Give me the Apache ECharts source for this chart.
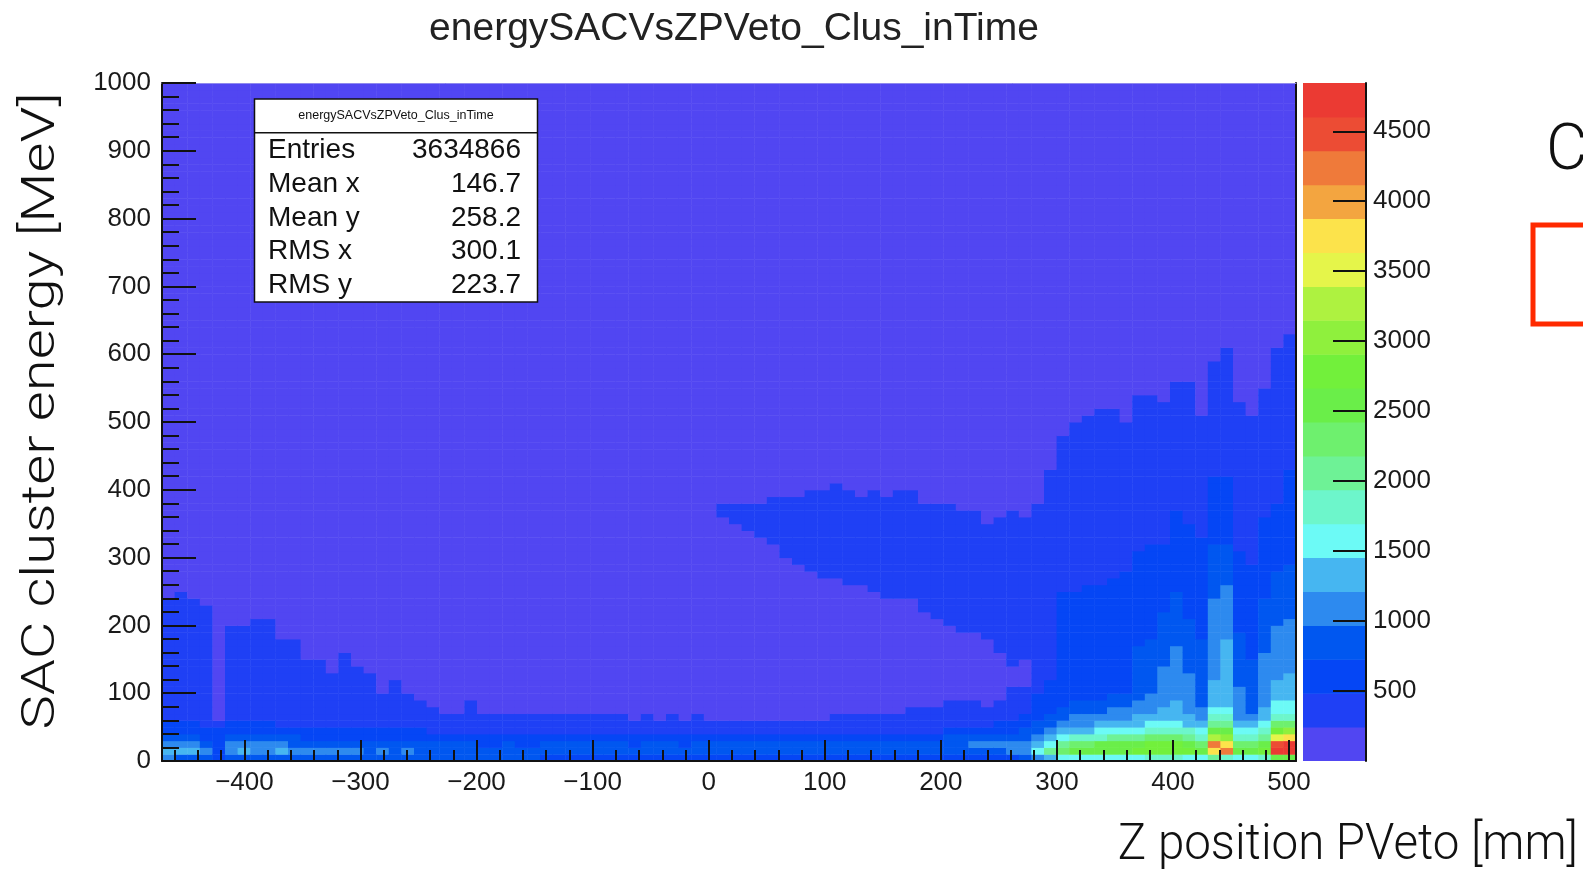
<!DOCTYPE html>
<html><head><meta charset="utf-8">
<script src="https://cdn.jsdelivr.net/npm/echarts@6/dist/echarts.min.js"></script>
<style>html,body{margin:0;padding:0;background:#fff;overflow:hidden}#chart{width:1583px;height:875px}</style>
</head><body><div id="chart"></div>
<script>
// ================= DATA =================
const xRange = [-471, 506];   // Z position PVeto [mm], 90 bins
const xBins = 90;
const yRange = [0, 1000];     // SAC cluster energy [MeV], 100 bins
const yBins = 100;
const zMax = 4845;            // palette maximum
const nContours = 20;
const xTickLabels = [-400, -300, -200, -100, 0, 100, 200, 300, 400, 500];
const yTickLabels = [0, 100, 200, 300, 400, 500, 600, 700, 800, 900, 1000];
const zTickLabels = [500, 1000, 1500, 2000, 2500, 3000, 3500, 4000, 4500];
const statsNames = ["Entries", "Mean x", "Mean y", "RMS x", "RMS y"];
const statsValues = ["3634866", "146.7", "258.2", "300.1", "223.7"];

// Per x-bin column: contour band of each y-bin (10 MeV), bottom row first.
// "L*N" = band L for N rows; rows above the listed ones are band 0.
const runsLeft = [
  "4,5,4,3,2,2,1*18", "3,5,4,3,2,2,1*19", "3,5,4,3,2,2,1*18", "3,4,3,2,2,1*18", "2,2,2,2,2,1",
  "3,4,4,3,2,2,1*14", "3,5,4,3,2,2,1*14", "3,4,4,3,2,2,1*15", "3,4,4,3,2,2,1*15", "3,5,4,3,2,1*13",
  "3,4,3,3,2,1*13", "3,4,3,2,2,1*10", "3,4,3,2,2,1*10", "3,4,3,2,2,1*8", "3,4,3,2,2,1*11",
  "3,4,3,2,2,1*9", "3,3,3,2,2,1*8", "3,4,3,2,2,1*5", "3,3,3,2,2,1*7", "3,4,3,2,2,1*5",
  "3,3,3,2,2,1*4", "3,3,3,2,1*4", "3,3,3,2,1*3", "3,3,3,2,1*3", "3,3,3,2,1*5",
  "3,3,2,2,1*3", "3,3,2,2,1*3", "3,3,3,2,1*3", "3,3,2,2,1*3", "3,3,2,2,1*3"
];
const runsMid = [
  "2,3,3,2,1*3", "2,3,3,2,1*3", "2,3,3,2,1*3", "2,3,3,2,1*3", "2,3,3,2,1*3",
  "2,3,3,2,1*3", "2,3,3,2,1*3", "2,3,2,2,1*2", "2,3,3,2,1*3", "2,3,3,2,1*2",
  "2,3,3,2,1*3", "2,3,2,2,1*2", "2,3,3,2,1*3", "2,3,3,2,1*2",
  "2,3,3,2,1*2,0*30,1*2", "2,3,3,2,1*2,0*29,1*3", "2,3,3,2,1*2,0*28,1*4", "2,3,3,2,1*2,0*27,1*5",
  "2,3,3,2,1*2,0*26,1*7", "2,3,3,2,1*2,0*24,1*9", "2,3,3,2,1*2,0*23,1*10", "2,3,3,2,1*2,0*22,1*12",
  "2,3,3,2,1*2,0*21,1*13", "2,3,3,2,1*3,0*20,1*14", "2,3,3,2,1*3,0*19,1*14", "2,3,3,2,1*3,0*19,1*13",
  "2,3,3,2,1*3,0*18,1*15", "2,3,3,2,1*3,0*17,1*15", "2,3,3,2,1*3,0*17,1*16", "2,3,3,2,1*4,0*16,1*16"
];
const runsRight = [
  "2,3,3,2,1*4,0*14,1*16", "2,3,3,2,1*4,0*13,1*17", "2,3,3,3,2,1*4,0*11,1*18", "2,3,3,3,2,1*4,0*10,1*18",
  "2,3,4,3,2,1*4,0*10,1*18", "2,3,4,3,2,1*3,0*10,1*17", "2,3,4,3,2,2,1*3,0*7,1*20", "2,4,4,3,2,2,1*5,0*3,1*23",
  "3,4,4,3,3,2,2,1*4,0*4,1*21", "4,6,5,4,3,3,2*4,1*28", "5,8,6,5,4,3,3,2*5,1*31",
  "6,9,8,6,5,4,3,3,2*17,1*23", "6,10,9,7,5,4,4,3,3,2*16,1*25", "6,10,9,7,5,4,4,3,3,2*17,1*25",
  "6,10,10,7,6,5,4,3,3,2*17,1*26", "6,10,10,8,6,5,4,4,3,3,2*17,1*25", "6,10,10,8,6,5,4,4,3,3,2*18,1*22",
  "6,11,10,8,6,5,5,4,4,3*8,2*14,1*23", "7,11,11,9,7,6,5,4,4,4,3*8,2*14,1*22", "7,11,11,9,7,6,5,5,4*6,3*8,2*10,1*21",
  "7,11,11,9,7,6,5,5,5,4*8,3*8,2*12,1*19", "6,11,10,8,7,5,5,4*6,3*8,2*14,1*21", "6,10,9,7,6,5,4,4,3*10,2*15,1*18",
  "8,15,17,13,10,8,7,6,5*4,4*12,3*8,2*10,1*17", "7,17,15,12,10,8,7,6,5*10,4*8,3*6,2*10,1*19",
  "6,10,9,7,6,5,4*5,3*8,2*12,1*22", "6,10,9,7,6,5,4,3*8,2*14,1*22", "7,11,10,8,7,6,5,5,4*8,3*8,2*12,1*19",
  "10,19,18,14,11,9,7,6,6,5*3,4*8,3*8,2*10,1*23", "10,19,19,15,12,9,7,6,6,5*4,4*8,3*8,2*14,1*20"
];

// palette of the 20 contour bands (bottom to top)
const bandColors = [
  '#5146f2', '#1f40f5', '#0546f5', '#0057f0', '#2d8aef', '#46b6f1', '#6cfaf6', '#6df6cb', '#6ef296', '#6ef06e',
  '#6aee49', '#72f03b', '#8ff03d', '#aef240', '#e5f54a', '#fce34b', '#f3a540', '#ef7a3a', '#ec4c34', '#eb3a33'
];

// ================= BUILD =================
function expandRuns(s) {
  const out = [];
  s.split(',').forEach(tok => {
    const parts = tok.split('*');
    const k = parts.length > 1 ? parseInt(parts[1], 10) : 1;
    for (let i = 0; i < k; i++) out.push(parseInt(parts[0], 10));
  });
  return out;
}
const columnRuns = runsLeft.concat(runsMid, runsRight);
const dx = (xRange[1] - xRange[0]) / xBins;
const dy = (yRange[1] - yRange[0]) / yBins;
const dz = zMax / nContours;
const cells = [];
columnRuns.forEach((s, c) => {
  const lv = expandRuns(s);
  for (let r = 0; r < yBins; r++) {
    const band = r < lv.length ? lv[r] : 0;
    cells.push([xRange[0] + c * dx, xRange[0] + (c + 1) * dx, yRange[0] + r * dy, yRange[0] + (r + 1) * dy, (band + 0.5) * dz]);
  }
});
const paletteCells = bandColors.map((_, i) => [0, 1, i * dz, (i + 1) * dz, (i + 0.5) * dz]);
const xMinorTicks = [];
for (let v = -460; v <= 500; v += 20) if (v % 100 !== 0) xMinorTicks.push(v);

function cellRect(params, api) {
  const p0 = api.coord([api.value(0), api.value(3)]);
  const p1 = api.coord([api.value(1), api.value(2)]);
  return {
    type: 'rect',
    shape: { x: p0[0], y: p0[1], width: p1[0] - p0[0] + 0.5, height: p1[1] - p0[1] + 0.5 },
    style: { fill: api.visual('color') }
  };
}

const FONT = 'Liberation Sans, Arial, sans-serif';
const LIGHT = 'Roboto, Liberation Sans, sans-serif';
const INK = '#1a1a1a';
const tickStyle = { color: '#111', width: 2 };
const plain = v => String(v);

function txt(x, y, text, size, align, extra) {
  return Object.assign({ type: 'text', x: x, y: y, z: 100,
    style: { text: text, fontSize: size, fontFamily: FONT, fill: '#111',
      align: align, verticalAlign: 'middle', textAlign: align, textVerticalAlign: 'middle' } }, extra || {});
}

const chart = echarts.init(document.getElementById('chart'), null, { renderer: 'canvas', width: 1583, height: 875 });
chart.setOption({
  animation: false,
  backgroundColor: '#ffffff',
  grid: [
    { left: 162, top: 83, width: 1134, height: 678, show: false },
    { left: 1303, top: 83, width: 63, height: 678, show: false }
  ],
  xAxis: [
    { type: 'value', gridIndex: 0, min: xRange[0], max: xRange[1], position: 'bottom', z: 10,
      axisLine: { show: true, onZero: false, lineStyle: tickStyle },
      axisTick: { show: true, inside: true, length: 21, customValues: xTickLabels, lineStyle: tickStyle },
      axisLabel: { customValues: xTickLabels, margin: 9, fontSize: 26, color: INK, fontFamily: FONT,
        formatter: v => (v < 0 ? '\u2212' + Math.abs(v) : String(v)) },
      splitLine: { show: false } },
    { type: 'value', gridIndex: 0, min: xRange[0], max: xRange[1], position: 'bottom', z: 10,
      axisLine: { show: false },
      axisTick: { show: true, inside: true, length: 11, customValues: xMinorTicks, lineStyle: tickStyle },
      axisLabel: { show: false }, splitLine: { show: false } },
    { type: 'value', gridIndex: 0, min: xRange[0], max: xRange[1], position: 'top', z: 10,
      axisLine: { show: true, onZero: false, lineStyle: { color: '#8f89ee', width: 1 } },
      axisTick: { show: false }, axisLabel: { show: false }, splitLine: { show: false } },
    { type: 'value', gridIndex: 1, min: 0, max: 1, show: false }
  ],
  yAxis: [
    { type: 'value', gridIndex: 0, min: yRange[0], max: yRange[1], interval: 100, position: 'left', z: 10,
      axisLine: { show: true, onZero: false, lineStyle: tickStyle },
      axisTick: { show: true, inside: true, length: 34, lineStyle: tickStyle },
      minorTick: { show: true, splitNumber: 5, length: 17, lineStyle: tickStyle },
      axisLabel: { margin: 11, fontSize: 26, color: INK, fontFamily: FONT, formatter: plain },
      splitLine: { show: false }, minorSplitLine: { show: false } },
    { type: 'value', gridIndex: 1, min: 0, max: zMax, position: 'right', z: 10,
      axisLine: { show: true, onZero: false, lineStyle: tickStyle },
      axisTick: { show: true, inside: true, length: 33, customValues: zTickLabels, lineStyle: tickStyle },
      axisLabel: { customValues: zTickLabels, margin: 7, fontSize: 26, color: INK, fontFamily: FONT, formatter: plain },
      splitLine: { show: false } },
    { type: 'value', gridIndex: 0, min: yRange[0], max: yRange[1], position: 'right', z: 10,
      axisLine: { show: true, onZero: false, lineStyle: { color: '#111', width: 2 } },
      axisTick: { show: false }, axisLabel: { show: false }, splitLine: { show: false } }
  ],
  visualMap: {
    type: 'piecewise', show: false, dimension: 4, seriesIndex: [0, 1],
    pieces: bandColors.map((col, i) => ({ gte: i * dz, lt: (i + 1) * dz, color: col }))
  },
  series: [
    { type: 'custom', name: 'energySACVsZPVeto_Clus_inTime', xAxisIndex: 0, yAxisIndex: 0,
      data: cells, renderItem: cellRect, clip: true, silent: true, z: 2 },
    { type: 'custom', name: 'palette', xAxisIndex: 3, yAxisIndex: 1,
      data: paletteCells, renderItem: cellRect, clip: true, silent: true, z: 2 }
  ],
  graphic: [
    txt(734, 29, 'energySACVsZPVeto_Clus_inTime', 39, 'center', { style: { text: 'energySACVsZPVeto_Clus_inTime', fontSize: 39, fontFamily: FONT, fill: '#222', align: 'center', verticalAlign: 'middle', textAlign: 'center', textVerticalAlign: 'middle' } }),
    { type: 'rect', z: 100, shape: { x: 254.5, y: 99, width: 283, height: 203 }, style: { fill: '#fff', stroke: '#111', lineWidth: 1.5 } },
    { type: 'line', z: 101, shape: { x1: 254.5, y1: 132.7, x2: 537.5, y2: 132.7 }, style: { stroke: '#111', lineWidth: 1.5 } },
    txt(396, 116, 'energySACVsZPVeto_Clus_inTime', 12.5, 'center', { z: 101 }),
    ...statsNames.map((n, i) => txt(268, 150 + i * 33.9, n, 28, 'left', { z: 101 })),
    ...statsValues.map((v, i) => txt(521, 150 + i * 33.9, v, 28, 'right', { z: 101 })),
    { type: 'text', x: 42, y: 411, rotation: Math.PI / 2, scaleX: 1.26, z: 100,
      style: { text: 'SAC cluster energy [MeV]', fontSize: 46, fontWeight: 300, fontFamily: LIGHT, fill: '#111',
        align: 'center', verticalAlign: 'middle', textAlign: 'center', textVerticalAlign: 'middle' } },
    { type: 'text', x: 1578, y: 846, scaleX: 0.95, z: 100,
      style: { text: 'Z position PVeto [mm]', fontSize: 50, fontWeight: 300, fontFamily: LIGHT, fill: '#111',
        align: 'right', verticalAlign: 'middle', textAlign: 'right', textVerticalAlign: 'middle' } },
    { type: 'text', x: 1546, y: 153, z: 100,
      style: { text: 'C', fontSize: 64, fontWeight: 300, fontFamily: LIGHT, fill: '#111',
        align: 'left', verticalAlign: 'middle', textAlign: 'left', textVerticalAlign: 'middle' } },
    { type: 'rect', z: 100, shape: { x: 1533, y: 225, width: 120, height: 99 },
      style: { fill: 'none', stroke: '#ff2a00', lineWidth: 5 } }
  ]
});
</script></body></html>
